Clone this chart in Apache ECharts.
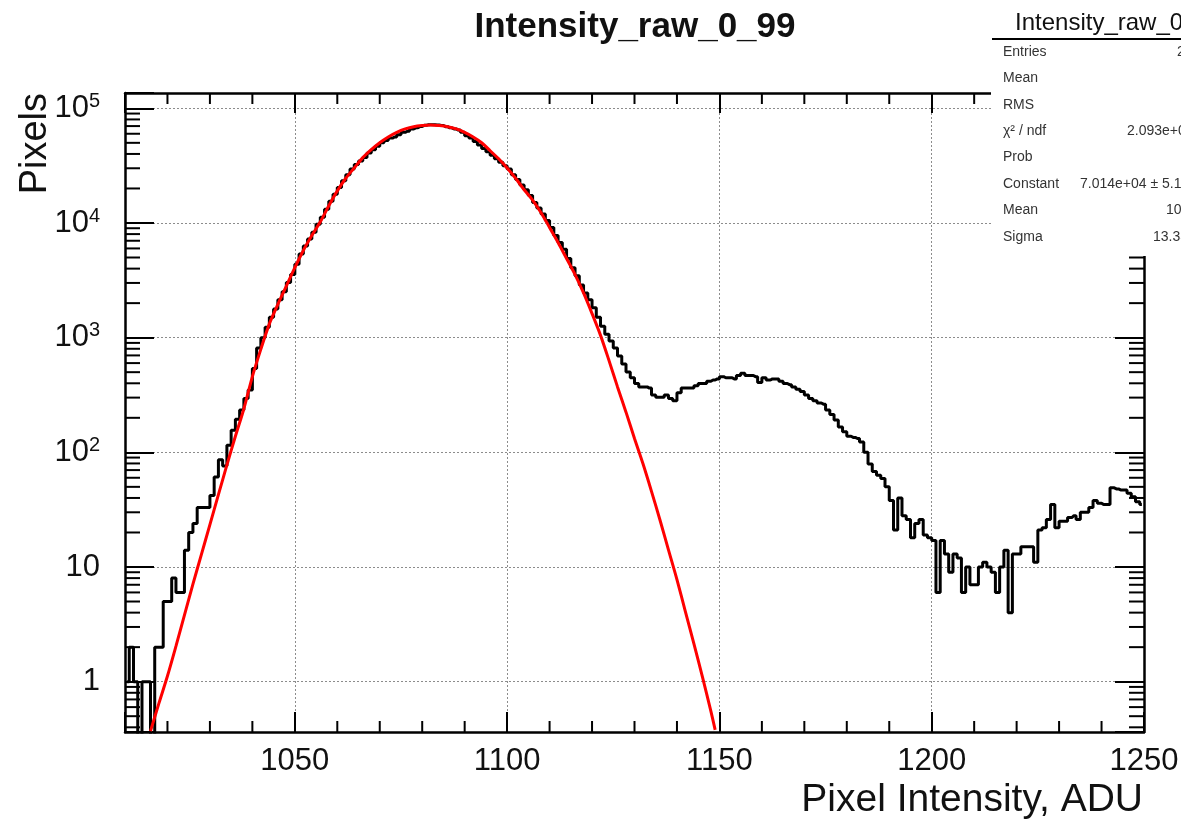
<!DOCTYPE html>
<html>
<head>
<meta charset="utf-8">
<title>Intensity_raw_0_99</title>
<script src="https://cdn.jsdelivr.net/npm/echarts@6/dist/echarts.min.js"></script>
<style>
  html, body { margin: 0; padding: 0; background: #fff; }
  #chart { width: 1181px; height: 820px; }
</style>
</head>
<body>
<div id="chart"></div>
<script>
// histogram: 1 ADU bins starting at 1010
const binStart = 1010;
const countsTail = [1, 2, 1, 0, 1, 1, 0, 2, 2, 5, 5, 8, 6, 6, 14, 20, 24, 33, 33, 33,
  42, 61, 86, 76, 115, 156, 194, 234, 295, 350];
const countsPeak = [537, 813, 1000, 1230, 1510, 1780, 2140, 2510, 3020, 3550,
  4370, 5370, 6310, 7240, 8320, 9770, 11200, 13200, 15500, 17800,
  20400, 23400, 26300, 29500, 32400, 34700, 37200, 40700, 43600, 46800,
  50100, 52500, 55000, 56200, 58900, 61700, 63100, 66100, 67600, 69500,
  71000, 72000, 72000, 71500, 70800, 69200, 67600, 66100, 64600, 61700,
  57500, 55000, 51300, 47900, 44700, 41700, 38900, 36300, 33900, 31600,
  29500, 26300, 24000, 21400, 19500, 17400, 15100, 13500, 12000, 10500,
  9120, 7760, 6760, 5890, 4900, 4070, 3470, 2880, 2450, 2140,
  1820, 1510, 1260, 1070, 933, 813, 692, 589, 501, 447, 398];
const countsShoulder = [372, 372, 363, 316, 302, 302, 316, 295, 282, 331,
  363, 363, 363, 380, 398, 398, 417, 427, 437, 457,
  447, 447, 437, 468, 490, 468, 468, 457, 407, 447,
  427, 437, 437, 417, 398, 389, 372, 355, 339, 316,
  295, 282, 269, 263, 234, 214, 191, 166, 151, 138,
  135, 132, 123, 100, 79, 68, 63, 59, 50];
const countsHigh = [38, 21, 40, 28, 26, 18, 24, 26, 19, 18,
  17, 6, 17, 13, 9, 13, 12, 6, 10, 7,
  7, 10, 11, 10, 9, 6, 10, 14, 4, 13,
  13, 15, 15, 15, 11, 21, 22, 26, 35, 22,
  25, 25, 27, 28, 26, 30, 30, 33, 38, 36,
  35, 35, 49, 48, 47, 47, 44, 41, 37, 35];

// gaussian fit as drawn (red)
const fitX = [1016, 1018, 1020, 1022, 1024, 1026, 1028, 1030, 1032, 1034, 1036, 1038,
  1040, 1042, 1044, 1046, 1048, 1050, 1052, 1054, 1056, 1058, 1060, 1062, 1064, 1066,
  1068, 1070, 1072, 1074, 1076, 1078, 1080, 1082, 1084, 1086, 1088, 1090, 1092, 1094,
  1096, 1098, 1100, 1102, 1104, 1106, 1108, 1110, 1112, 1114, 1116, 1118, 1120, 1122,
  1124, 1126, 1128, 1130, 1132, 1134, 1136, 1138, 1140, 1142, 1144, 1146, 1148, 1149];
const fitY = [0.37, 0.65, 1.12, 2.04, 3.8, 7.08, 12.9, 23.4, 42.7, 77.6, 138, 240,
  457, 794, 1318, 1950, 2818, 4074, 5754, 7762, 10230, 14130, 19050, 24550, 30200, 37150,
  43650, 50120, 56230, 61660, 66070, 69180, 70790, 71610, 70790, 69180, 66070, 61660, 56230, 50120,
  42660, 36310, 30200, 24550, 19500, 15850, 12300, 9120, 6761, 4898, 3548, 2455, 1622, 1047,
  631, 372, 224, 132, 79.4, 45.7, 25.7, 14.1, 7.76, 4.07, 2.14, 1.10, 0.55, 0.38];

const statsTitle = 'Intensity_raw_0_99';
const statsLabels = ['Entries', 'Mean', 'RMS', 'χ² / ndf', 'Prob', 'Constant', 'Mean', 'Sigma'];
const statsValues = ['2.348e+06', '', '', '2.093e+04 / 234', '', '7.014e+04 ± 5.1e+01', '1082 ± 0.0', '13.33 ± 0.01'];
const statsValueX = [1177, 0, 0, 1127, 0, 1080, 1166, 1153];

const xMin = 1010, xMax = 1250;
const yMin = 0.364, yMax = 1.36e5;
const xMinorTicks = [1020, 1030, 1040, 1060, 1070, 1080, 1090, 1110, 1120, 1130, 1140,
  1160, 1170, 1180, 1190, 1210, 1220, 1230, 1240];
const yMinorMant = [2, 3, 4, 5, 6, 7, 8, 9];
const yDecades = [0.1, 1, 10, 100, 1000, 10000];

const FONT = '"Liberation Sans", Arial, Helvetica, sans-serif';

const counts = countsTail.concat(countsPeak, countsShoulder, countsHigh);
// empty bins go down to the frame, like ROOT does
const histData = counts.map((c, i) => [binStart + i + 0.5, c > 0 ? c : 0.05]);
const fitData = fitX.map((x, i) => [x, fitY[i]]);

let yMinorTicks = [];
yDecades.forEach(d => {
  yMinorMant.forEach(m => {
    const v = m * d;
    if (v > yMin && v < yMax) yMinorTicks.push(v);
  });
});

let myChart = echarts.init(document.getElementById('chart'), null, { renderer: 'canvas' });

let tickStyle = { stroke: '#000', lineWidth: 2 };

// stats box sits on its own layer so it hides the frame and ticks below it
let statsEls = [
  { type: 'rect', zlevel: 1, z: 100, shape: { x: 991, y: 0, width: 200, height: 256 }, style: { fill: '#fff' } },
  { type: 'line', zlevel: 1, z: 101, shape: { x1: 992, y1: 39, x2: 1181, y2: 39 }, style: { stroke: '#000', lineWidth: 2 } },
  {
    type: 'text', zlevel: 1, z: 101, x: 1015, y: 23,
    style: { text: statsTitle, font: '24px ' + FONT, fill: '#111', textAlign: 'left', textVerticalAlign: 'middle' }
  }
];
statsLabels.forEach((lab, i) => {
  let y = 52 + i * 26.4;
  statsEls.push({
    type: 'text', zlevel: 1, z: 101, x: 1003, y: y,
    style: { text: lab, font: '14px ' + FONT, fill: '#333', textAlign: 'left', textVerticalAlign: 'middle' }
  });
  if (statsValues[i]) {
    statsEls.push({
      type: 'text', zlevel: 1, z: 101, x: statsValueX[i], y: y,
      style: { text: statsValues[i], font: '14px ' + FONT, fill: '#333', textAlign: 'left', textVerticalAlign: 'middle' }
    });
  }
});

let option = {
  backgroundColor: '#fff',
  animation: false,
  grid: { left: 125, right: 37, top: 93, bottom: 88, containLabel: false, outerBoundsMode: 'none' },
  xAxis: [
    {
      type: 'value', min: xMin, max: xMax, position: 'bottom',
      axisLine: { show: true, onZero: false, lineStyle: { color: '#000', width: 2.5 } },
      axisTick: { show: true, inside: true, length: 20, lineStyle: { color: '#000', width: 2 } },
      axisLabel: {
        margin: 14, fontSize: 31, fontFamily: FONT, color: '#111',
        formatter: v => (v % 50 === 0 ? String(v) : '')
      },
      splitLine: { show: true, lineStyle: { color: '#8c8c8c', width: 1, type: [2, 2] } }
    },
    {
      type: 'value', min: xMin, max: xMax, position: 'top',
      axisLine: { show: true, onZero: false, lineStyle: { color: '#000', width: 2.5 } },
      axisTick: { show: true, inside: true, length: 20, lineStyle: { color: '#000', width: 2 } },
      axisLabel: { show: false },
      splitLine: { show: false }
    }
  ],
  yAxis: [
    {
      type: 'log', logBase: 10, min: yMin, max: yMax, position: 'left',
      axisLine: { show: true, onZero: false, lineStyle: { color: '#000', width: 2.5 } },
      axisTick: { show: true, inside: true, length: 29, lineStyle: { color: '#000', width: 2 } },
      axisLabel: {
        margin: 25, color: '#111',
        formatter: v => {
          let p = Math.log10(v);
          let r = Math.round(p);
          if (Math.abs(p - r) > 1e-6) return '';
          if (r === 0) return '{b|1}';
          if (r === 1) return '{b|10}';
          return '{b|10}{s|' + r + '}';
        },
        rich: {
          b: { fontSize: 31, fontFamily: FONT, color: '#111', lineHeight: 34 },
          s: { fontSize: 20, fontFamily: FONT, color: '#111', lineHeight: 20, verticalAlign: 'top' }
        }
      },
      splitLine: { show: true, lineStyle: { color: '#8c8c8c', width: 1, type: [2, 2] } }
    },
    {
      type: 'log', logBase: 10, min: yMin, max: yMax, position: 'right',
      axisLine: { show: true, onZero: false, lineStyle: { color: '#000', width: 2.5 } },
      axisTick: { show: true, inside: true, length: 29, lineStyle: { color: '#000', width: 2 } },
      axisLabel: { show: false },
      splitLine: { show: false }
    }
  ],
  series: [
    {
      name: 'hist', type: 'line', step: 'middle', data: histData,
      symbol: 'none', clip: true,
      lineStyle: { color: '#000', width: 3 },
      z: 3
    },
    {
      name: 'fit', type: 'line', data: fitData, smooth: 0.3,
      symbol: 'none', clip: true,
      lineStyle: { color: '#ff0000', width: 3 },
      z: 4
    },
    {
      name: 'xMinor', type: 'custom', data: xMinorTicks.map(v => [v, yMin]),
      encode: { x: 0, y: 1 }, silent: true, z: 5,
      renderItem: (params, api) => {
        let v = api.value(0);
        let b = api.coord([v, yMin]);
        let t = api.coord([v, yMax]);
        return {
          type: 'group', children: [
            { type: 'line', shape: { x1: b[0], y1: b[1], x2: b[0], y2: b[1] - 11 }, style: tickStyle },
            { type: 'line', shape: { x1: t[0], y1: t[1], x2: t[0], y2: t[1] + 11 }, style: tickStyle }
          ]
        };
      }
    },
    {
      name: 'yMinor', type: 'custom', data: yMinorTicks.map(v => [xMin, v]),
      encode: { x: 0, y: 1 }, silent: true, z: 5,
      renderItem: (params, api) => {
        let v = api.value(1);
        let l = api.coord([xMin, v]);
        let r = api.coord([xMax, v]);
        return {
          type: 'group', children: [
            { type: 'line', shape: { x1: l[0], y1: l[1], x2: l[0] + 15, y2: l[1] }, style: tickStyle },
            { type: 'line', shape: { x1: r[0], y1: r[1], x2: r[0] - 15, y2: r[1] }, style: tickStyle }
          ]
        };
      }
    }
  ],
  graphic: [
    {
      type: 'text', x: 635, y: 27, z: 100,
      style: { text: 'Intensity_raw_0_99', font: 'bold 35px ' + FONT, fill: '#111', textAlign: 'center', textVerticalAlign: 'middle' }
    },
    {
      type: 'text', x: 36, y: 93, rotation: Math.PI / 2, z: 100,
      style: { text: 'Pixels', font: '38px ' + FONT, fill: '#111', textAlign: 'right', textVerticalAlign: 'middle' }
    },
    {
      type: 'text', x: 1143, y: 800, z: 100,
      style: { text: 'Pixel Intensity, ADU', font: '39px ' + FONT, fill: '#111', textAlign: 'right', textVerticalAlign: 'middle' }
    }
  ].concat(statsEls)
};

myChart.setOption(option);
</script>
</body>
</html>
